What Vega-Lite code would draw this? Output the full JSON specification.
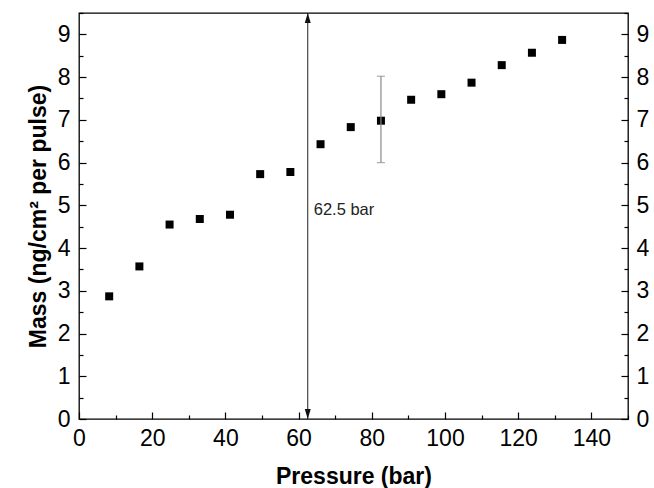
{
  "$schema": "https://vega.github.io/schema/vega-lite/v6.json",
  "width": 549,
  "height": 406,
  "autosize": {"type": "none"},
  "padding": {"left": 79, "top": 13, "right": 26, "bottom": 69},
  "background": "white",
  "config": {
    "view": {"stroke": "#000", "strokeWidth": 1.3},
    "font": "Liberation Sans",
    "axis": {
      "grid": false,
      "domain": false,
      "labelFont": "Liberation Sans",
      "labelFontSize": 23,
      "labelColor": "#000",
      "tickColor": "#000",
      "tickWidth": 1.2,
      "titleFont": "Liberation Sans",
      "titleFontWeight": "bold",
      "titleFontSize": 23,
      "titleColor": "#000"
    }
  },
  "datasets": {
    "pts": [
      {"p": 8.25, "m": 2.87},
      {"p": 16.5, "m": 3.57},
      {"p": 24.75, "m": 4.55},
      {"p": 33.0, "m": 4.68},
      {"p": 41.25, "m": 4.78},
      {"p": 49.5, "m": 5.73},
      {"p": 57.75, "m": 5.78},
      {"p": 66.0, "m": 6.43},
      {"p": 74.25, "m": 6.83},
      {"p": 82.5, "m": 6.98},
      {"p": 90.75, "m": 7.47},
      {"p": 99.0, "m": 7.6},
      {"p": 107.25, "m": 7.87},
      {"p": 115.5, "m": 8.28},
      {"p": 123.75, "m": 8.57},
      {"p": 132.0, "m": 8.87}
    ],
    "err": [{"p": 82.5, "lo": 6.0, "hi": 8.02}],
    "marker": [{"p": 62.5, "lo": 0, "hi": 9.5, "m": 4.9, "label": "62.5 bar"}],
    "heads": [
      {"p": 62.5, "m": 9.5, "dir": "up"},
      {"p": 62.5, "m": 0, "dir": "down"}
    ]
  },
  "encoding": {
    "x": {
      "field": "p",
      "type": "quantitative",
      "scale": {"domain": [0, 150], "nice": false, "zero": false},
      "axis": {
        "title": "Pressure (bar)",
        "values": [0, 10, 20, 30, 40, 50, 60, 70, 80, 90, 100, 110, 120, 130, 140, 150],
        "format": ".0f",
        "labelExpr": "datum.value % 20 === 0 ? datum.label : ''",
        "tickSize": {"condition": {"test": "datum.value % 20 === 0", "value": -7}, "value": -4},
        "labelPadding": 15,
        "labelFlush": false,
        "labelOverlap": false,
        "titlePadding": 12
      }
    }
  },
  "layer": [
    {
      "data": {"name": "pts"},
      "mark": {"type": "point", "shape": "square", "filled": true, "color": "#000", "size": 64, "opacity": 1},
      "encoding": {
        "y": {
          "field": "m",
          "type": "quantitative",
          "scale": {"domain": [0, 9.5], "nice": false, "zero": false},
          "axis": {
            "orient": "left",
            "title": "Mass (ng/cm² per pulse)",
            "values": [0, 0.5, 1, 1.5, 2, 2.5, 3, 3.5, 4, 4.5, 5, 5.5, 6, 6.5, 7, 7.5, 8, 8.5, 9, 9.5],
            "format": ".0f",
            "labelExpr": "datum.value % 1 === 0 ? datum.label : ''",
            "tickSize": {"condition": {"test": "datum.value % 1 === 0", "value": -7}, "value": -4},
            "labelPadding": 16,
            "labelFlush": false,
            "labelOverlap": false,
            "titlePadding": 7
          }
        }
      }
    },
    {
      "data": {"name": "err"},
      "mark": {"type": "rule", "color": "#888", "strokeWidth": 1.2},
      "encoding": {
        "y": {
          "field": "lo",
          "type": "quantitative",
          "axis": {
            "orient": "right",
            "title": null,
            "values": [0, 0.5, 1, 1.5, 2, 2.5, 3, 3.5, 4, 4.5, 5, 5.5, 6, 6.5, 7, 7.5, 8, 8.5, 9, 9.5],
            "format": ".0f",
            "labelExpr": "datum.value % 1 === 0 ? datum.label : ''",
            "tickSize": {"condition": {"test": "datum.value % 1 === 0", "value": -7}, "value": -4},
            "labelPadding": 15,
            "labelFlush": false,
            "labelOverlap": false
          }
        },
        "y2": {"field": "hi"}
      }
    },
    {
      "data": {"name": "err"},
      "mark": {"type": "tick", "orient": "horizontal", "color": "#888", "size": 8, "thickness": 1.2},
      "encoding": {"y": {"field": "lo", "type": "quantitative", "axis": null}}
    },
    {
      "data": {"name": "err"},
      "mark": {"type": "tick", "orient": "horizontal", "color": "#888", "size": 8, "thickness": 1.2},
      "encoding": {"y": {"field": "hi", "type": "quantitative", "axis": null}}
    },
    {
      "data": {"name": "marker"},
      "mark": {"type": "rule", "color": "#222", "strokeWidth": 1},
      "encoding": {
        "y": {"field": "lo", "type": "quantitative", "axis": null},
        "y2": {"field": "hi"}
      }
    },
    {
      "data": {"name": "marker"},
      "mark": {"type": "text", "align": "left", "baseline": "middle", "dx": 6, "fontSize": 16.5, "font": "Liberation Sans", "color": "#222"},
      "encoding": {
        "y": {"field": "m", "type": "quantitative", "axis": null},
        "text": {"field": "label"}
      }
    },
    {
      "data": {"name": "heads"},
      "mark": {"type": "point", "filled": true, "color": "#111", "opacity": 1, "size": 36, "strokeWidth": 0},
      "encoding": {
        "y": {"field": "m", "type": "quantitative", "axis": null},
        "shape": {
          "field": "dir",
          "type": "nominal",
          "scale": {"domain": ["up", "down"], "range": ["M0,0L-1,3.3L1,3.3Z", "M0,0L-1,-3.3L1,-3.3Z"]},
          "legend": null
        }
      }
    }
  ],
  "resolve": {"axis": {"y": "independent"}}
}
